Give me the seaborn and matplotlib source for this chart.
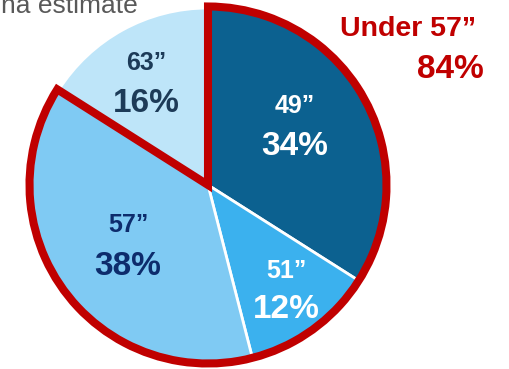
import matplotlib
matplotlib.use("Agg")
import matplotlib.pyplot as plt
from matplotlib.patches import Wedge
import seaborn as sns

sns.set_theme(style="white")
plt.rcParams['font.family'] = ['Liberation Sans', 'DejaVu Sans']

sizes = ['49\u201d', '51\u201d', '57\u201d', '63\u201d']
shares = [34, 12, 38, 16]
colors = ['#0C6190', '#3BB1EE', '#7FCAF3', '#BEE5F9']
text_colors = ['white', 'white', '#0D2C6C', '#1D3B58']
highlight_label = 'Under 57\u201d'
highlight_share = 84
W, H = 510, 369

fig = plt.figure(figsize=(W / 100, H / 100), dpi=100)
ax = fig.add_axes([0, 0, 1, 1])

cx, cy, r = 208, H - 185, 177
wedges, _ = ax.pie(shares, colors=colors, startangle=90, counterclock=False,
                   center=(cx, cy), radius=r, frame=True,
                   wedgeprops=dict(edgecolor='white', linewidth=2))
ax.set_xlim(0, W)
ax.set_ylim(0, H)
ax.set_aspect('equal')
ax.axis('off')

# red outline around the slices under 57"
end_angle = 90 - 360 * sum(shares[:3]) / 100
ax.add_patch(Wedge((cx, cy), r + 1.5, end_angle, 90, fill=False,
                   edgecolor='#C00000', linewidth=5.8, joinstyle='miter', zorder=5))

# (x, baseline of size label, baseline of share label)
label_pos = [(295, 113, 155), (286, 278, 318), (128, 232, 275), (146, 70, 112)]
for (x, y1, y2), s, p, tc in zip(label_pos, sizes, shares, text_colors):
    ax.text(x, H - y1, s, ha='center', va='baseline', fontsize=18,
            fontweight='bold', color=tc, zorder=6)
    ax.text(x, H - y2, f'{p}%', ha='center', va='baseline', fontsize=24,
            fontweight='bold', color=tc, zorder=6)

ax.text(408, H - 36, highlight_label, ha='center', va='baseline', fontsize=20.5,
        fontweight='bold', color='#C00000')
ax.text(450, H - 78, f'{highlight_share}%', ha='center', va='baseline',
        fontsize=24, fontweight='bold', color='#C00000')

ax.text(138, H - 13, 'na estimate', ha='right', va='baseline', fontsize=19,
        color='#595959')

fig.savefig('out.png', dpi=100)
